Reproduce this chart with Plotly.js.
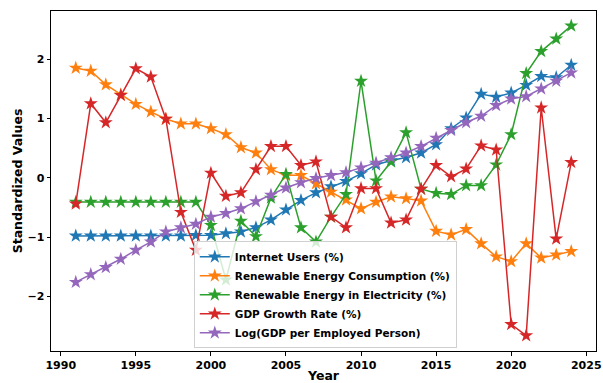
<!DOCTYPE html>
<html>
<head>
<meta charset="utf-8">
<script src="https://cdn.plot.ly/plotly-3.0.1.min.js"></script>
<style>
  html, body { margin: 0; padding: 0; background: #fff; }
  #chart { width: 603px; height: 383px; }
</style>
</head>
<body>
<div id="chart"></div>
<script>
// Years covered by the series
const years = [1991, 1992, 1993, 1994, 1995, 1996, 1997, 1998, 1999, 2000,
               2001, 2002, 2003, 2004, 2005, 2006, 2007, 2008, 2009, 2010,
               2011, 2012, 2013, 2014, 2015, 2016, 2017, 2018, 2019, 2020,
               2021, 2022, 2023, 2024];

// Standardized (z-score) values per indicator
const internetUsers = [-0.98, -0.98, -0.98, -0.98, -0.98, -0.98, -0.98, -0.98, -0.97, -0.97,
                       -0.94, -0.91, -0.84, -0.71, -0.54, -0.38, -0.25, -0.15, -0.06, 0.07,
                       0.22, 0.29, 0.34, 0.42, 0.56, 0.83, 1.01, 1.41, 1.36, 1.43,
                       1.56, 1.71, 1.69, 1.90];

const renewableConsumption = [1.85, 1.80, 1.57, 1.40, 1.24, 1.11, 0.99, 0.91, 0.91, 0.83,
                              0.73, 0.51, 0.42, 0.14, 0.04, 0.04, -0.10, -0.24, -0.37, -0.52,
                              -0.41, -0.32, -0.35, -0.39, -0.90, -0.96, -0.87, -1.11, -1.33, -1.41,
                              -1.11, -1.35, -1.30, -1.24];

const renewableElectricity = [-0.41, -0.41, -0.41, -0.41, -0.41, -0.41, -0.41, -0.41, -0.41, -0.80,
                              -1.72, -0.73, -0.99, -0.34, 0.06, -0.84, -1.08, -0.66, -0.28, 1.63,
                              -0.05, 0.27, 0.76, -0.19, -0.26, -0.28, -0.13, -0.13, 0.22, 0.73,
                              1.76, 2.13, 2.34, 2.56];

const gdpGrowth = [-0.44, 1.25, 0.93, 1.39, 1.84, 1.70, 0.99, -0.58, -1.22, 0.08,
                   -0.31, -0.25, 0.14, 0.53, 0.53, 0.21, 0.27, -0.66, -0.84, -0.18,
                   -0.18, -0.76, -0.71, -0.19, 0.21, 0.02, 0.15, 0.54, 0.47, -2.47,
                   -2.66, 1.18, -1.03, 0.26];

const logGdpPerWorker = [-1.76, -1.63, -1.51, -1.37, -1.22, -1.08, -0.91, -0.84, -0.78, -0.66,
                         -0.60, -0.52, -0.40, -0.29, -0.17, -0.08, -0.01, 0.04, 0.09, 0.17,
                         0.25, 0.34, 0.42, 0.53, 0.67, 0.80, 0.93, 1.04, 1.22, 1.33,
                         1.37, 1.50, 1.63, 1.77];

const seriesNames = [
  'Internet Users (%)',
  'Renewable Energy Consumption (%)',
  'Renewable Energy in Electricity (%)',
  'GDP Growth Rate (%)',
  'Log(GDP per Employed Person)'
];
const seriesValues = [internetUsers, renewableConsumption, renewableElectricity, gdpGrowth, logGdpPerWorker];
const colors = ['#1f77b4', '#ff7f0e', '#2ca02c', '#d62728', '#9467bd'];

const xTicks = [1990, 1995, 2000, 2005, 2010, 2015, 2020, 2025];
const yTicks = [-2, -1, 0, 1, 2];

const traces = seriesNames.map((name, i) => ({
  type: 'scatter',
  mode: 'lines+markers',
  name: name,
  x: years,
  y: seriesValues[i],
  line: { color: colors[i], width: 1.5 },
  marker: { symbol: 'star', size: 10.5, color: colors[i], line: { width: 0 } }
}));

const font = { family: 'DejaVu Sans, sans-serif', color: '#000', weight: 'bold' };

const axisCommon = {
  showgrid: false,
  zeroline: false,
  showline: true,
  mirror: true,
  linecolor: '#000',
  linewidth: 1,
  ticks: 'outside',
  ticklen: 3.5,
  tickwidth: 1,
  tickcolor: '#000',
  tickfont: Object.assign({ size: 11 }, font)
};

const layout = {
  width: 603,
  height: 383,
  margin: { l: 51, r: 7, t: 11, b: 32 },
  paper_bgcolor: '#fff',
  plot_bgcolor: '#fff',
  showlegend: true,
  xaxis: Object.assign({}, axisCommon, {
    range: [1989.35, 2025.65],
    tickvals: xTicks,
    ticktext: xTicks.map(String),
    title: { text: 'Year', font: Object.assign({ size: 12.5 }, font), standoff: 4 }
  }),
  yaxis: Object.assign({}, axisCommon, {
    range: [-2.92, 2.81],
    tickvals: yTicks,
    ticktext: yTicks.map(v => v < 0 ? '\u2212' + Math.abs(v) : String(v)),
    title: { text: 'Standardized Values', font: Object.assign({ size: 12.5 }, font), standoff: 2 }
  }),
  legend: {
    x: 0.262,
    y: 0.008,
    xanchor: 'left',
    yanchor: 'bottom',
    bgcolor: 'rgba(255,255,255,0.8)',
    bordercolor: '#d0d0d0',
    borderwidth: 1,
    font: Object.assign({ size: 10.5 }, font),
    itemwidth: 30,
    tracegroupgap: 0
  }
};

Plotly.newPlot('chart', traces, layout, { staticPlot: true, displayModeBar: false });
</script>
</body>
</html>
